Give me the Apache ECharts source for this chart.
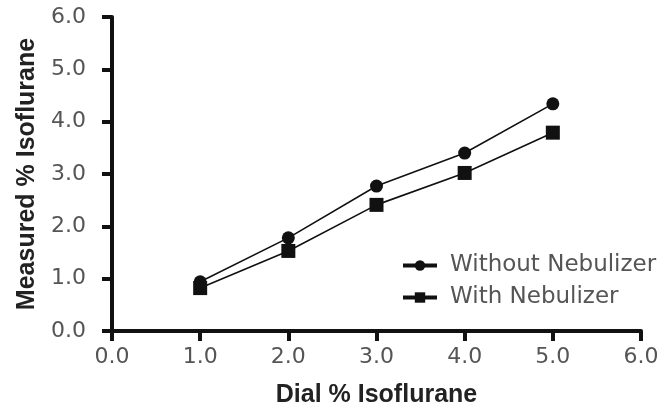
<!DOCTYPE html>
<html>
<head>
<meta charset="utf-8">
<script src="https://cdn.jsdelivr.net/npm/echarts@6/dist/echarts.min.js"></script>
<style>
  html, body { margin: 0; padding: 0; background: #fff; }
  #chart { width: 664px; height: 412px; }
</style>
</head>
<body>
<div id="chart"></div>
<script>
const chart = echarts.init(document.getElementById('chart'))

// data
const dialPct = [1, 2, 3, 4, 5]
const withoutNebulizer = [0.94, 1.78, 2.77, 3.40, 4.34]
const withNebulizer = [0.82, 1.53, 2.41, 3.02, 3.79]
const seriesNames = ['Without Nebulizer', 'With Nebulizer']

const labelFont = 'DejaVu Sans, sans-serif'
const nameFont = 'Liberation Sans, Arial, sans-serif'

const axisCommon = {
  type: 'value',
  min: 0,
  max: 6,
  interval: 1,
  nameLocation: 'middle',
  nameTextStyle: { fontFamily: nameFont, fontWeight: 'bold', fontSize: 25, color: '#222' },
  axisLine: { lineStyle: { color: '#111', width: 4 } },
  axisTick: { length: 10, lineStyle: { color: '#111', width: 4 } },
  axisLabel: {
    fontFamily: labelFont, fontSize: 22, color: '#555',
    formatter: (v) => v.toFixed(1),
  },
  splitLine: { show: false },
}

const option = {
  animation: false,
  grid: { left: 112, right: 23, top: 17, bottom: 81, outerBoundsMode: 'none' },
  xAxis: Object.assign({}, axisCommon, {
    name: 'Dial % Isoflurane',
    nameGap: 52,
    axisLabel: Object.assign({}, axisCommon.axisLabel, { margin: 15 }),
  }),
  yAxis: Object.assign({}, axisCommon, {
    name: 'Measured % Isoflurane',
    nameGap: 72,
    axisLabel: Object.assign({}, axisCommon.axisLabel, { margin: 26 }),
  }),
  legend: {
    orient: 'vertical',
    left: 396,
    top: 249,
    itemWidth: 34,
    itemHeight: 13,
    itemGap: 9,
    lineStyle: { width: 4 },
    textStyle: { fontFamily: labelFont, fontSize: 23, color: '#555', padding: [0, 0, 0, 8] },
    data: seriesNames,
  },
  series: [
    {
      name: seriesNames[0],
      type: 'line',
      data: dialPct.map((x, i) => [x, withoutNebulizer[i]]),
      symbol: 'circle',
      symbolSize: 13,
      itemStyle: { color: '#111' },
      lineStyle: { color: '#111', width: 1.6 },
    },
    {
      name: seriesNames[1],
      type: 'line',
      data: dialPct.map((x, i) => [x, withNebulizer[i]]),
      symbol: 'rect',
      symbolSize: 14,
      itemStyle: { color: '#111' },
      lineStyle: { color: '#111', width: 1.6 },
    },
  ],
}

chart.setOption(option)
</script>
</body>
</html>
